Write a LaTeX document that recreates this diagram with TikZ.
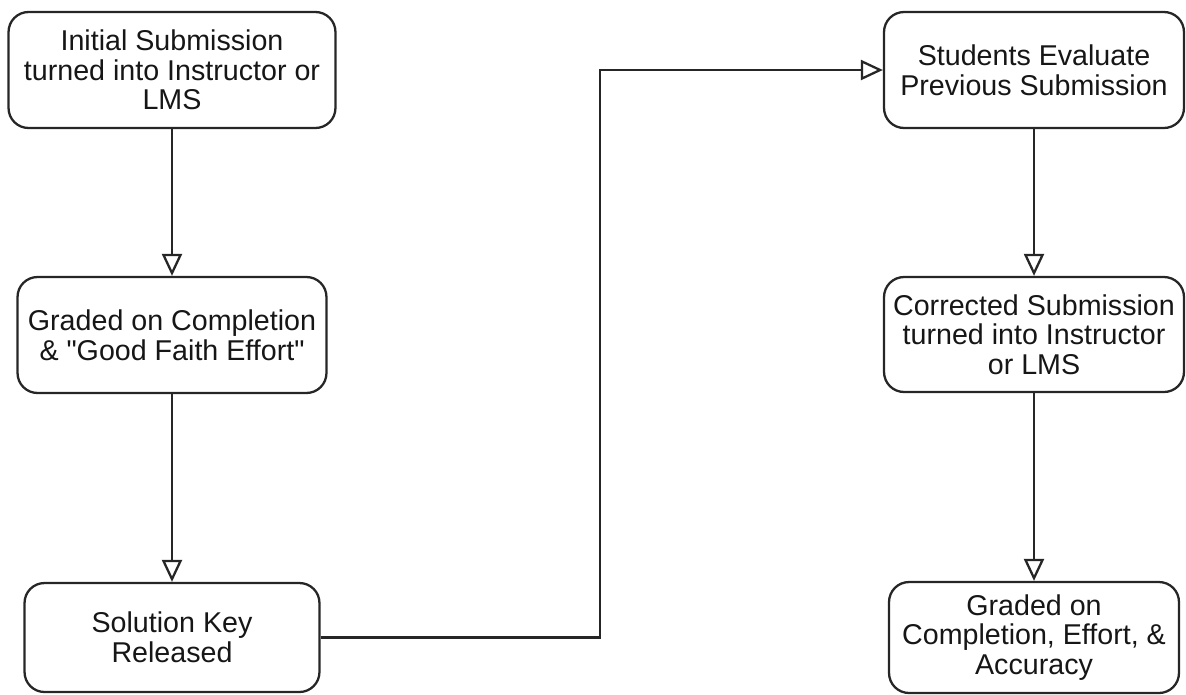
\documentclass[tikz,border=0pt]{standalone}
\usepackage{fontspec}
\setmainfont{Liberation Sans}
\usetikzlibrary{arrows.meta}
\definecolor{edgegray}{HTML}{262626}
\definecolor{textgray}{HTML}{161616}

\begin{document}
\begin{tikzpicture}[x=0.02cm, y=-0.02cm,
    stepbox/.style={draw=edgegray, line width=1.3pt, rounded corners=0.4cm,
      align=center, text=textgray, inner sep=0pt,
      font=\fontsize{16.3}{16.9}\selectfont},
    flow/.style={draw=edgegray, line width=1.3pt,
      -{Triangle[open, length=0.44cm, width=0.4cm, fill=white]}}]
\useasboundingbox (0,0) rectangle (1186,694);

% left column
\node [stepbox, minimum width=6.54cm, minimum height=2.32cm] (init) at (172,70)
  {Initial Submission\\turned into Instructor or\\LMS};
\node [stepbox, minimum width=6.18cm, minimum height=2.32cm] (graded) at (172,335)
  {Graded on Completion\\\& \textquotedbl Good Faith Effort\textquotedbl};
\node [stepbox, minimum width=5.9cm, minimum height=2.18cm] (key) at (172,637.5)
  {Solution Key\\Released};

% right column
\node [stepbox, minimum width=6.0cm, minimum height=2.32cm] (eval) at (1034,70)
  {Students Evaluate\\Previous Submission};
\node [stepbox, minimum width=6.0cm, minimum height=2.3cm] (corrected) at (1034,334.5)
  {Corrected Submission\\turned into Instructor\\or LMS};
\node [stepbox, minimum width=5.8cm, minimum height=2.22cm] (final) at (1034,637.5)
  {Graded on\\Completion, Effort, \&\\Accuracy};

\coordinate (turn) at (600,70);

\draw [flow] (init) -- (graded);
\draw [flow] (graded) -- (key);
\draw [flow] (key.east) -| (turn) -- (eval.west);
\draw [flow] (eval) -- (corrected);
\draw [flow] (corrected) -- (final);

\end{tikzpicture}
\end{document}
